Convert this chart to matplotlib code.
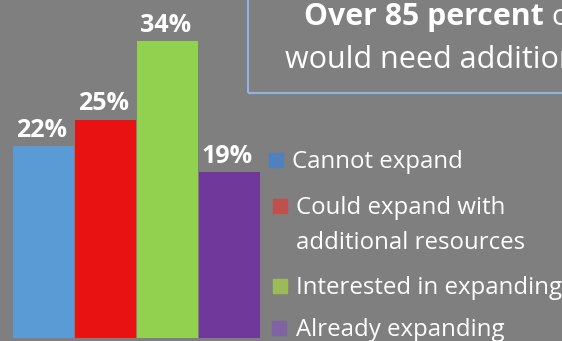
import matplotlib.pyplot as plt
from matplotlib.patches import Rectangle

plt.rcParams['font.family'] = ['Open Sans', 'DejaVu Sans']

# Data
categories = ['Cannot expand', 'Could expand with\nadditional resources',
              'Interested in expanding', 'Already expanding']
values = [22, 25, 34, 19]
bar_colors = ['#5B9BD5', '#E81212', '#92D050', '#70389A']
legend_colors = ['#4F81BD', '#C0504D', '#9BBB59', '#8064A2']
title_bold = 'Over 85 percent'
title_rest = ' of centers'
title_line2 = 'would need additional resources'

W, H = 562, 341
bg = '#7F7F7F'

fig = plt.figure(figsize=(W / 100, H / 100), dpi=100, facecolor=bg)
ax = fig.add_axes([0, 0, 1, 1])
ax.set_facecolor(bg)

# bars: one category = 62 px, 1 percent = 8.74 px, baseline at 338 px from top
px_x, px_y = 62.0, 8.74
ax.set_xlim(-43.5 / px_x, (W - 43.5) / px_x)
ax.set_ylim(-(H - 338) / px_y, 338 / px_y)

xs = range(len(values))
ax.bar(xs, values, width=0.985, color=bar_colors, edgecolor='none')
for x, v in zip(xs, values):
    ax.annotate(f'{v}%', (x, v), xytext=(-1.5, 6.5), textcoords='offset points',
                ha='center', va='baseline', color='white', fontsize=18,
                fontweight='bold')
ax.axis('off')

# title box (cut off on the right and top)
fig.patches.append(Rectangle((248 / W, 1 - 93 / H), 0.6, 0.5,
                             transform=fig.transFigure, fill=False,
                             edgecolor='#8EB4E3', linewidth=1.5))
t = fig.text(304 / W, 1 - 25 / H, title_bold, color='white', fontsize=21.8,
             fontweight='bold', va='baseline')
fig.canvas.draw()
bb = t.get_window_extent()
fig.text(bb.x1 / W, 1 - 25 / H, title_rest, color='white', fontsize=21.8,
         va='baseline')
fig.text(285 / W, 1 - 68 / H, title_line2, color='white', fontsize=22,
         va='baseline')

# legend
leg_x = [292, 296, 296, 296]
leg_base = [168, 214, 294, 336]
box_x = [269, 273, 273, 272]
for lab, c, tx, yb, bx in zip(categories, legend_colors, leg_x, leg_base, box_x):
    fig.patches.append(Rectangle((bx / W, 1 - (yb - 1) / H), 14 / W, 14 / H,
                                 transform=fig.transFigure, color=c))
    for k, line in enumerate(lab.split('\n')):
        fig.text(tx / W, 1 - (yb + 35 * k) / H, line, color='white',
                 fontsize=17.3, va='baseline')

fig.savefig('out.png', dpi=100, facecolor=bg)
